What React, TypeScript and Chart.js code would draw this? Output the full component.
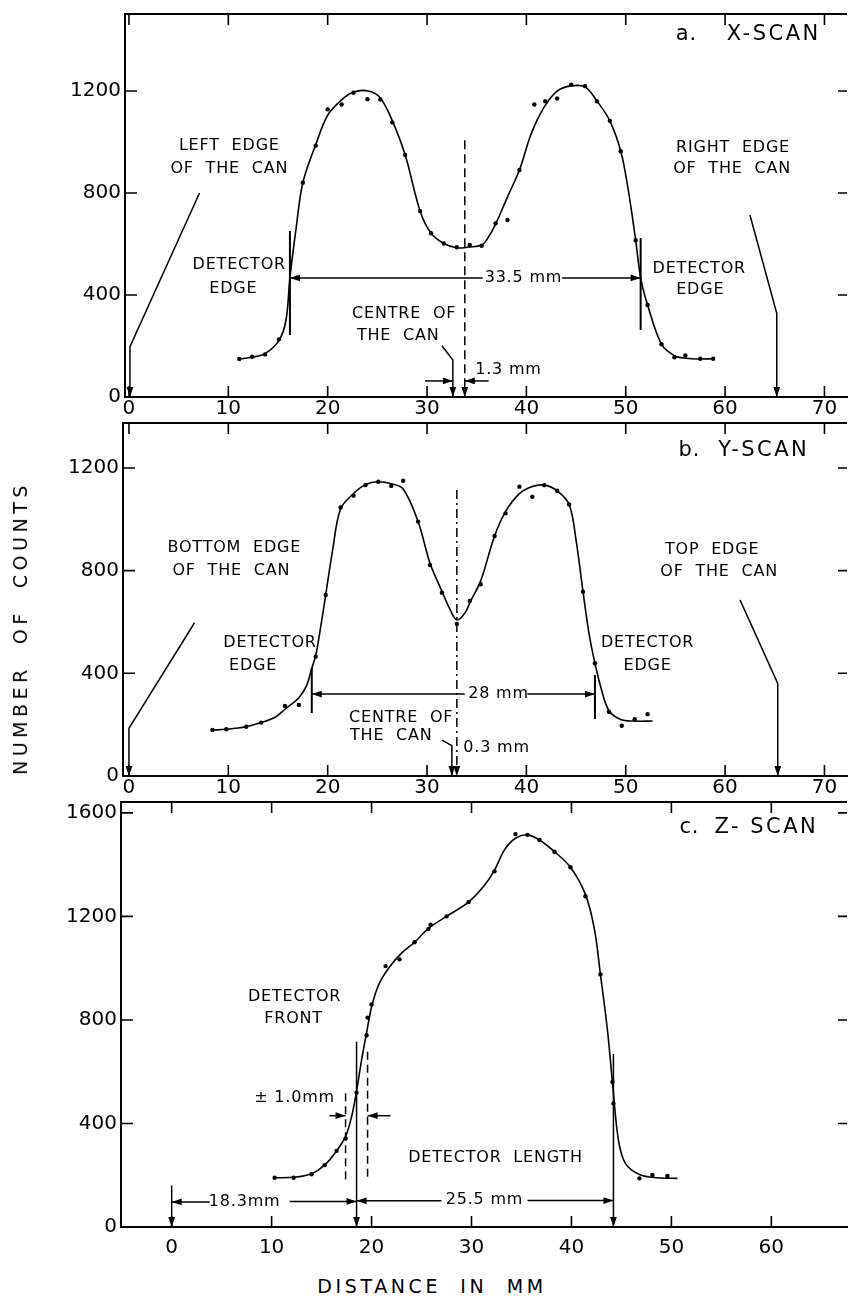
import React, { useEffect, useRef } from 'react';
import { Chart, registerables } from 'chart.js';
Chart.register(...registerables);

// ---------------- DATA ----------------
// a. X-SCAN
const xScanPointX = [11.1, 12.4, 13.7, 15.1, 17.5, 18.8, 20.0, 21.4, 22.6, 24.0, 25.3, 26.5, 27.8, 29.3, 30.4, 31.7, 33.0, 34.3, 35.5, 36.9, 38.1, 39.3, 40.8, 41.9, 43.1, 44.5, 45.9, 47.1, 48.4, 49.5, 51.0, 52.2, 53.6, 54.9, 56.0, 57.5, 58.8];
const xScanPointY = [149, 158, 167, 226, 840, 986, 1128, 1147, 1193, 1168, 1167, 1077, 949, 729, 642, 602, 587, 596, 593, 681, 694, 890, 1147, 1160, 1171, 1225, 1219, 1160, 1083, 964, 615, 361, 207, 156, 163, 150, 150];
const xScanCurveX = [11.1, 12.4, 13.7, 15.1, 15.8, 16.2, 16.8, 17.5, 18.8, 20.0, 21.4, 22.6, 24.1, 25.3, 26.5, 27.8, 29.3, 30.4, 31.7, 33.0, 34.2, 35.5, 36.1, 36.9, 38.1, 39.3, 40.5, 41.8, 43.1, 44.5, 45.9, 47.1, 48.4, 49.5, 50.2, 51.0, 51.5, 52.2, 53.6, 54.9, 56.1, 57.5, 58.8];
const xScanCurveY = [149, 156, 170, 222, 300, 467, 655, 840, 990, 1105, 1165, 1196, 1200, 1173, 1084, 949, 729, 642, 602, 585, 588, 596, 622, 678, 785, 890, 1034, 1138, 1200, 1220, 1216, 1161, 1083, 964, 825, 615, 467, 361, 207, 162, 152, 149, 150];

// b. Y-SCAN
const yScanPointX = [8.4, 9.8, 11.8, 13.3, 15.7, 17.1, 18.8, 19.8, 21.3, 22.6, 23.8, 25.1, 26.4, 27.6, 29.1, 30.3, 31.5, 33.0, 34.3, 35.4, 36.8, 37.9, 39.3, 40.6, 41.8, 43.1, 44.3, 45.7, 46.9, 48.3, 49.6, 50.9, 52.2];
const yScanPointY = [179, 182, 192, 208, 273, 277, 465, 705, 1046, 1092, 1133, 1146, 1130, 1150, 991, 822, 714, 592, 682, 747, 935, 1023, 1127, 1088, 1133, 1111, 1058, 718, 439, 250, 196, 221, 241];
const yScanCurveX = [8.4, 9.8, 11.8, 13.3, 14.8, 15.7, 17.1, 17.9, 18.4, 18.8, 19.3, 19.8, 20.5, 21.3, 22.6, 23.8, 25.1, 26.4, 27.6, 29.1, 30.3, 31.5, 32.3, 33.0, 33.8, 34.4, 35.4, 36.8, 37.9, 39.3, 40.6, 41.8, 43.1, 44.3, 45.0, 45.7, 46.3, 46.9, 47.5, 48.3, 49.5, 50.8, 52.7];
const yScanCurveY = [179, 182, 192, 208, 231, 260, 305, 354, 420, 470, 582, 705, 880, 1040, 1100, 1135, 1146, 1138, 1118, 991, 829, 720, 650, 608, 634, 682, 760, 935, 1030, 1100, 1128, 1133, 1111, 1058, 919, 718, 556, 439, 345, 255, 220, 214, 214];

// c. Z-SCAN
const zScanPointX = [10.3, 12.2, 14.0, 15.3, 16.5, 17.4, 18.5, 19.5, 19.6, 20.0, 21.4, 22.8, 24.3, 25.7, 25.9, 27.5, 29.7, 32.3, 34.4, 35.6, 36.8, 38.3, 39.9, 41.4, 42.9, 44.1, 44.2, 46.8, 48.1, 49.6];
const zScanPointY = [190, 190, 204, 239, 294, 342, 519, 741, 809, 860, 1008, 1034, 1100, 1152, 1168, 1200, 1255, 1374, 1518, 1515, 1495, 1450, 1390, 1278, 976, 560, 477, 188, 201, 197];
const zScanCurveX = [10.3, 12.2, 14.0, 15.3, 16.5, 17.4, 18.0, 18.5, 19.0, 19.5, 20.0, 20.7, 21.7, 23.0, 24.3, 25.7, 27.5, 29.7, 31.3, 32.3, 33.3, 34.4, 35.6, 36.8, 38.3, 39.9, 41.4, 42.3, 42.9, 43.6, 44.1, 44.7, 45.4, 46.8, 48.6, 50.6];
const zScanCurveY = [190, 192, 206, 239, 294, 350, 426, 525, 645, 750, 850, 935, 1000, 1058, 1100, 1154, 1200, 1255, 1320, 1378, 1457, 1502, 1515, 1495, 1450, 1390, 1285, 1150, 976, 761, 560, 336, 246, 203, 190, 188];

// tick values
const xTickLabelsAB = [0, 10, 20, 30, 40, 50, 60, 70];
const xTickLabelsC = [0, 10, 20, 30, 40, 50, 60];
const xTickMarks = [0, 10, 20, 30, 40, 50, 60, 70];
const yTicksAB = [0, 400, 800, 1200];
const yTicksC = [0, 400, 800, 1200, 1600];

// ---------------- annotations (data coordinates) ----------------
type Ann = { pts: [number, number][]; dash?: number[]; width?: number; arrow?: boolean };
type Lab = { text: string; x: number; y: number; size?: number; spacing?: number };

const annA: Ann[] = [
  { pts: [[7.1, 800], [0.1, 197], [0.1, 0]], arrow: true },
  { pts: [[62.5, 714], [65.2, 328], [65.2, 0]], arrow: true },
  { pts: [[31.5, 201], [32.6, 145], [32.6, 0]], arrow: true },
  { pts: [[33.8, 1007], [33.8, 0]], dash: [9, 5], arrow: true },
  { pts: [[29.8, 63], [32.6, 63]], arrow: true },
  { pts: [[36.2, 63], [33.8, 63]], arrow: true },
  { pts: [[35.6, 467], [16.2, 467]], arrow: true },
  { pts: [[43.6, 467], [51.5, 467]], arrow: true },
  { pts: [[16.2, 651], [16.2, 243]], width: 2 },
  { pts: [[51.5, 624], [51.5, 263]], width: 2 },
];
const labA: Lab[] = [
  { text: 'LEFT  EDGE', x: 10.1, y: 984 },
  { text: 'OF  THE  CAN', x: 10.1, y: 894 },
  { text: 'DETECTOR', x: 11.1, y: 520 },
  { text: 'EDGE', x: 10.5, y: 426 },
  { text: 'CENTRE  OF', x: 27.7, y: 325 },
  { text: 'THE  CAN', x: 27.1, y: 239 },
  { text: '1.3 mm', x: 38.2, y: 106 },
  { text: '33.5 mm', x: 39.7, y: 467 },
  { text: 'RIGHT  EDGE', x: 60.8, y: 978 },
  { text: 'OF  THE  CAN', x: 60.7, y: 894 },
  { text: 'DETECTOR', x: 57.4, y: 504 },
  { text: 'EDGE', x: 57.5, y: 422 },
  { text: 'a.', x: 56.1, y: 1420, size: 21 },
  { text: 'X-SCAN', x: 64.9, y: 1420, size: 21, spacing: 2.5 },
];

const annB: Ann[] = [
  { pts: [[6.6, 597], [0, 186], [0, 0]], arrow: true },
  { pts: [[61.5, 686], [65.3, 361], [65.3, 0]], arrow: true },
  { pts: [[31.5, 140], [32.5, 118], [32.5, 0]], arrow: true },
  { pts: [[33.0, 1114], [33.0, 0]], dash: [9, 4, 2, 4], arrow: true },
  { pts: [[33.8, 319], [18.4, 319]], arrow: true },
  { pts: [[40.1, 319], [46.9, 319]], arrow: true },
  { pts: [[18.4, 421], [18.4, 245]], width: 2 },
  { pts: [[46.9, 393], [46.9, 222]], width: 2 },
];
const labB: Lab[] = [
  { text: 'BOTTOM  EDGE', x: 10.6, y: 888 },
  { text: 'OF  THE  CAN', x: 10.3, y: 799 },
  { text: 'DETECTOR', x: 14.2, y: 518 },
  { text: 'EDGE', x: 12.5, y: 429 },
  { text: 'CENTRE  OF', x: 27.4, y: 226 },
  { text: 'THE  CAN', x: 26.4, y: 156 },
  { text: '0.3 mm', x: 37.0, y: 109 },
  { text: '28 mm', x: 37.2, y: 319 },
  { text: 'TOP  EDGE', x: 58.7, y: 880 },
  { text: 'OF  THE  CAN', x: 59.4, y: 795 },
  { text: 'DETECTOR', x: 52.2, y: 518 },
  { text: 'EDGE', x: 52.2, y: 429 },
  { text: 'b.', x: 56.4, y: 1266, size: 21 },
  { text: 'Y-SCAN', x: 63.9, y: 1266, size: 21, spacing: 2.5 },
];

const annC: Ann[] = [
  { pts: [[18.5, 716], [18.5, 0]], arrow: true },
  { pts: [[17.4, 517], [17.4, 181]], dash: [8, 5] },
  { pts: [[19.6, 677], [19.6, 175]], dash: [8, 5] },
  { pts: [[15.8, 430], [17.4, 430]], arrow: true },
  { pts: [[21.9, 430], [19.6, 430]], arrow: true },
  { pts: [[44.2, 668], [44.2, 0]], arrow: true },
  { pts: [[0, 160], [0, 0]], arrow: true },
  { pts: [[3.8, 97], [0, 97]], arrow: true },
  { pts: [[11.8, 99], [18.5, 99]], arrow: true },
  { pts: [[27.0, 101], [18.5, 101]], arrow: true },
  { pts: [[35.6, 102], [44.2, 102]], arrow: true },
];
const labC: Lab[] = [
  { text: 'DETECTOR', x: 12.3, y: 889 },
  { text: 'FRONT', x: 12.2, y: 804 },
  { text: '± 1.0mm', x: 12.3, y: 498 },
  { text: 'DETECTOR  LENGTH', x: 32.4, y: 267 },
  { text: '18.3mm', x: 7.3, y: 97 },
  { text: '25.5 mm', x: 31.3, y: 104 },
  { text: 'c.', x: 51.8, y: 1542, size: 21 },
  { text: 'Z- SCAN', x: 59.5, y: 1542, size: 21, spacing: 2.5 },
];

// ---------------- panel layout ----------------
type PanelCfg = {
  top: number; height: number; padTop: number; yAxisWidth: number; xAxisHeight: number;
  xMin: number; xMax: number; yMax: number; xLabelPad: number;
  xLabels: number[]; yTicks: number[];
  px: number[]; py: number[]; cx: number[]; cy: number[];
  ann: Ann[]; labels: Lab[];
};

const panels: PanelCfg[] = [
  { top: 0, height: 420, padTop: 14, yAxisWidth: 125, xAxisHeight: 23, xMin: -0.4, xMax: 72.27, yMax: 1502, xLabelPad: 2,
    xLabels: xTickLabelsAB, yTicks: yTicksAB, px: xScanPointX, py: xScanPointY, cx: xScanCurveX, cy: xScanCurveY, ann: annA, labels: labA },
  { top: 400, height: 400, padTop: 23, yAxisWidth: 123, xAxisHeight: 24, xMin: -0.6, xMax: 72.27, yMax: 1375, xLabelPad: 2,
    xLabels: xTickLabelsAB, yTicks: yTicksAB, px: yScanPointX, py: yScanPointY, cx: yScanCurveX, cy: yScanCurveY, ann: annB, labels: labB },
  { top: 780, height: 480, padTop: 22, yAxisWidth: 121, xAxisHeight: 33, xMin: -5.07, xMax: 67.57, yMax: 1642, xLabelPad: 11,
    xLabels: xTickLabelsC, yTicks: yTicksC, px: zScanPointX, py: zScanPointY, cx: zScanCurveX, cy: zScanCurveY, ann: annC, labels: labC },
];

const FONT = "'DejaVu Sans', sans-serif";

const decorPlugin = (cfg: PanelCfg) => ({
  id: 'decor',
  beforeDatasetsDraw(chart: any) {
    const { ctx, chartArea } = chart;
    const xs = chart.scales.x, ys = chart.scales.y;
    ctx.save();
    ctx.strokeStyle = '#000';
    ctx.lineWidth = 2;
    ctx.beginPath();
    ctx.moveTo(chartArea.left - 1, chartArea.top);
    ctx.lineTo(chartArea.right, chartArea.top);
    ctx.stroke();
    ctx.lineWidth = 1.6;
    const tl = 11;
    xTickMarks.forEach((v) => {
      if (v < cfg.xMin || v > cfg.xMax) return;
      const p = xs.getPixelForValue(v);
      ctx.beginPath();
      ctx.moveTo(p, chartArea.bottom);
      ctx.lineTo(p, chartArea.bottom - tl);
      ctx.moveTo(p, chartArea.top);
      ctx.lineTo(p, chartArea.top + tl);
      ctx.stroke();
    });
    cfg.yTicks.forEach((v) => {
      if (v === 0) return;
      const p = ys.getPixelForValue(v);
      ctx.beginPath();
      ctx.moveTo(chartArea.left, p);
      ctx.lineTo(chartArea.left + 12, p);
      ctx.moveTo(chartArea.right, p);
      ctx.lineTo(chartArea.right - 9, p);
      ctx.stroke();
    });
    ctx.restore();
  },
  afterDatasetsDraw(chart: any) {
    const { ctx } = chart;
    const xs = chart.scales.x, ys = chart.scales.y;
    ctx.save();
    ctx.fillStyle = '#000';
    chart.data.datasets.forEach((ds: any, i: number) => {
      if (!ds.arrow) return;
      const els = chart.getDatasetMeta(i).data;
      const a = els[els.length - 2], b = els[els.length - 1];
      const ang = Math.atan2(b.y - a.y, b.x - a.x);
      const L = 10, W = 3.4;
      const c = Math.cos(ang), s = Math.sin(ang);
      ctx.beginPath();
      ctx.moveTo(b.x, b.y);
      ctx.lineTo(b.x - L * c + W * s, b.y - L * s - W * c);
      ctx.lineTo(b.x - L * c - W * s, b.y - L * s + W * c);
      ctx.closePath();
      ctx.fill();
    });
    ctx.textAlign = 'center';
    ctx.textBaseline = 'middle';
    cfg.labels.forEach((l) => {
      ctx.font = `${l.size || 16}px ${FONT}`;
      (ctx as any).letterSpacing = `${l.spacing ?? 0.8}px`;
      ctx.fillText(l.text, xs.getPixelForValue(l.x), ys.getPixelForValue(l.y));
    });
    ctx.restore();
  },
});

function Panel({ cfg }: { cfg: PanelCfg }) {
  const ref = useRef<HTMLCanvasElement>(null);
  useEffect(() => {
    const annSets = cfg.ann.map((a) => ({
      data: a.pts.map(([x, y]) => ({ x, y })),
      showLine: true,
      borderColor: '#000',
      borderWidth: a.width || 1.5,
      borderDash: a.dash || [],
      pointRadius: 0,
      tension: 0,
      arrow: !!a.arrow,
    }));
    const chart = new Chart(ref.current!, {
      type: 'scatter',
      data: {
        datasets: [
          ...annSets,
          {
            data: cfg.cx.map((x, i) => ({ x, y: cfg.cy[i] })),
            showLine: true,
            borderColor: '#000',
            borderWidth: 1.6,
            pointRadius: 0,
            tension: 0.35,
          },
          {
            data: cfg.px.map((x, i) => ({ x, y: cfg.py[i] })),
            showLine: false,
            pointRadius: 2.2,
            pointBackgroundColor: '#000',
            pointBorderWidth: 0,
          },
        ] as any,
      },
      options: {
        responsive: false,
        devicePixelRatio: 1,
        animation: false,
        events: [],
        layout: { padding: { top: cfg.padTop, left: 0, right: 0, bottom: 0 } },
        plugins: { legend: { display: false }, tooltip: { enabled: false } },
        scales: {
          x: {
            type: 'linear',
            position: 'bottom',
            min: cfg.xMin,
            max: cfg.xMax,
            grid: { display: false, drawTicks: false },
            border: { display: true, color: '#000', width: 2 },
            ticks: {
              color: '#000',
              font: { family: FONT, size: 20, lineHeight: 1 },
              padding: cfg.xLabelPad,
              maxRotation: 0,
              autoSkip: false,
              callback: (v: any) => String(v),
            },
            afterBuildTicks: (s: any) => { s.ticks = cfg.xLabels.map((v) => ({ value: v })); },
            afterFit: (s: any) => { s.height = cfg.xAxisHeight; },
          },
          y: {
            type: 'linear',
            position: 'left',
            min: 0,
            max: cfg.yMax,
            grid: { display: false, drawTicks: false },
            border: { display: true, color: '#000', width: 2 },
            ticks: {
              color: '#000',
              font: { family: FONT, size: 20, lineHeight: 1 },
              padding: 4,
              autoSkip: false,
              callback: (v: any) => String(v),
            },
            afterBuildTicks: (s: any) => { s.ticks = cfg.yTicks.map((v) => ({ value: v })); },
            afterFit: (s: any) => { s.width = cfg.yAxisWidth; },
          },
        },
      } as any,
      plugins: [decorPlugin(cfg)],
    });
    return () => chart.destroy();
  }, []);
  return (
    <canvas
      ref={ref}
      width={851}
      height={cfg.height}
      style={{ position: 'absolute', left: 0, top: cfg.top, width: 851, height: cfg.height }}
    />
  );
}

export default function App() {
  return (
    <div style={{ position: 'absolute', left: 0, top: 0, width: 851, height: 1296, background: '#fff', overflow: 'hidden' }}>
      {panels.map((p, i) => (
        <Panel key={i} cfg={p} />
      ))}
      <div
        style={{
          position: 'absolute', left: 20, top: 628, transform: 'translate(-50%, -50%) rotate(-90deg)',
          fontFamily: FONT, fontSize: 19, letterSpacing: '4.5px', whiteSpace: 'nowrap', color: '#000',
        }}
      >
        NUMBER&nbsp; OF&nbsp; COUNTS
      </div>
      <div
        style={{
          position: 'absolute', left: 432, top: 1286, transform: 'translate(-50%, -50%)',
          fontFamily: FONT, fontSize: 19, letterSpacing: '3.6px', whiteSpace: 'nowrap', color: '#000',
        }}
      >
        DISTANCE&nbsp; IN&nbsp; MM
      </div>
    </div>
  );
}
